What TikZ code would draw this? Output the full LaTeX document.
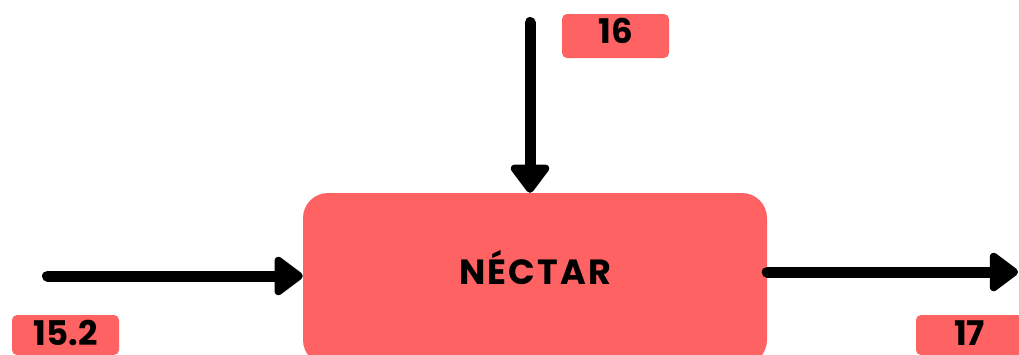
\documentclass[tikz,border=0pt]{standalone}
\usepackage{fontspec}
\newfontfamily\boxfont[LetterSpace=6]{Poppins}
\newfontfamily\tagfont{Poppins}
\usetikzlibrary{arrows.meta}
\definecolor{nectarred}{HTML}{FF6262}
\tikzset{
  procbox/.style={fill=nectarred, rounded corners=25pt, minimum width=464pt, minimum height=172pt,
    inner sep=0pt, text height=20pt, text depth=10pt, font=\boxfont\bfseries\fontsize{35}{35}\selectfont},
  tagbox/.style={fill=nectarred, rounded corners=5pt, minimum width=107pt, minimum height=44pt,
    inner sep=0pt, text height=24pt, text depth=10pt, font=\tagfont\bfseries\fontsize{34}{34}\selectfont},
  flow/.style={line width=11pt, line cap=round, -{Triangle[length=31pt,width=44pt,round]}}
}

\begin{document}
\begin{tikzpicture}[x=1pt,y=-1pt]
	\useasboundingbox (0,0) rectangle (1019,354);
	\clip (0,0) rectangle (1019,354);
	
	\node[procbox] (nectar) at (535,279) {NÉCTAR};
	\node[tagbox] (tag16) at (615.5,36) {16};
	\node[tagbox, minimum height=40pt, text height=21pt, text depth=0pt] (tag152) at (65.5,335) {15.2};
	\node[tagbox, minimum height=40pt, text height=21pt, text depth=0pt] (tag17) at (969.5,335) {17};
	
	\coordinate (in16) at (530,22.5);
	\coordinate (in152) at (47.5,276);
	\coordinate (out17) at (1018,272);
	\draw[flow] (in16) -- (in16 |- nectar.north);
	\draw[flow] (in152) -- (in152 -| nectar.west);
	\draw[flow] (out17 -| nectar.east) -- (out17);
	
\end{tikzpicture}
\end{document}
